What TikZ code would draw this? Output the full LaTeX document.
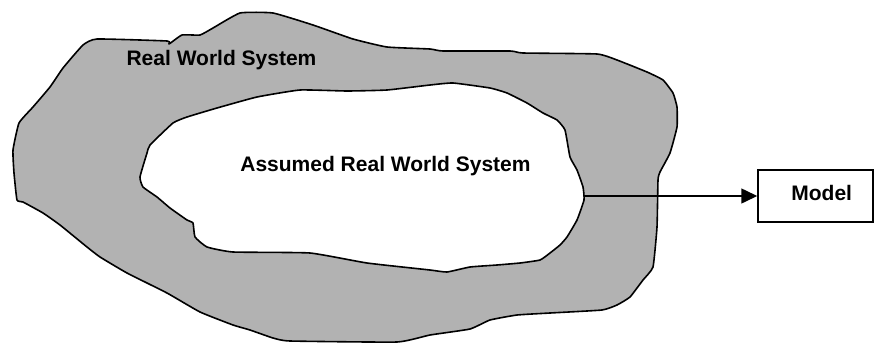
\documentclass[tikz,border=0pt]{standalone}
\usepackage{fontspec}
\setmainfont{Liberation Sans}
\usetikzlibrary{arrows.meta}
\definecolor{blobgray}{RGB}{178,178,178}
\tikzset{
  blob/.style={draw=black, line width=1.6pt, line join=round},
  lbl/.style={font=\fontsize{21}{25}\selectfont\bfseries, inner sep=0pt},
  modelbox/.style={draw=black, line width=1.5pt, fill=white, minimum width=115pt, minimum height=52pt, inner sep=0pt},
  conn/.style={line width=1.5pt, -{Triangle[length=16pt,width=15pt]}}
}
\begin{document}
\begin{tikzpicture}[x=1pt,y=-1pt]
\useasboundingbox (0,0) rectangle (875,343);
% outer blob
\filldraw[blob, fill=blobgray] plot[smooth cycle, tension=0.25] coordinates {
(97,39) (167,41) (169,44) (182,35) (200,35) (213,28) (240,13) (273,13) (313,25) (353,39) (387,47) (430,49) (443,51) (510,51) (523,53) (597,54) (617,60) (647,72) (663,80) (673,93) (677,107) (677,127) (670,153) (660,172) (658,180) (657,227) (653,267) (643,280) (630,297) (617,305) (602,310) (550,313) (517,315) (490,320) (470,329) (430,335) (397,342) (290,341) (273,338) (250,330) (233,325) (200,312) (167,293) (127,273) (100,257) (87,247) (60,225) (43,213) (23,202) (17,200) (14,173) (13,150) (19,123) (33,107) (50,87) (63,68) (83,45)};
% inner blob
\filldraw[blob, fill=white] plot[smooth cycle, tension=0.25] coordinates {
(173,123) (187,117) (217,108) (257,97) (300,90) (347,91) (387,90) (430,85) (453,83) (490,88) (507,93) (527,103) (543,113) (557,120) (565,130) (570,157) (577,170) (583,187) (584,200) (577,220) (567,237) (560,245) (550,253) (540,260) (520,263) (497,265) (470,267) (447,272) (430,270) (367,263) (310,253) (233,252) (207,247) (195,237) (193,223) (187,220) (170,208) (157,197) (143,187) (140,177) (147,153) (150,145)};
\node[lbl] (rws) at (221.5,60.5) {Real World System};
\node[lbl] (arws) at (385.5,166) {Assumed Real World System};
\node[modelbox] (model) at (815.5,196) {};
\node[lbl] (modeltxt) at (821.7,193) {Model};
\coordinate (src) at (584,196);
\draw[conn] (src) -- (model.west);
\end{tikzpicture}
\end{document}
